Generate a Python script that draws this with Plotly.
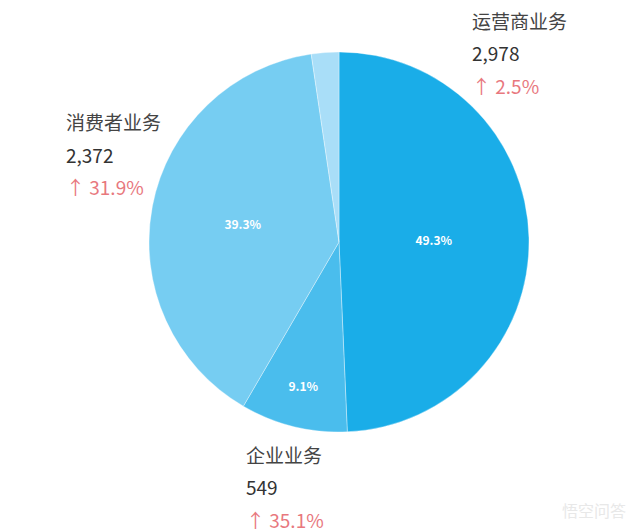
import plotly.graph_objects as go

# segments, clockwise from 12 o'clock
segments = ["运营商业务", "企业业务", "消费者业务", "其他"]
revenue = [2978, 549, 2372, 141]
growth = ["2.5%", "35.1%", "31.9%", ""]
colors = ["#1AADE8", "#4ABDED", "#76CDF2", "#A9DEF8"]

# page body has an 8px margin, so the figure is drawn 8px smaller and shifted
OFF = 8
W, H = 640 - OFF, 532 - OFF


def px(x):
    return (x - OFF) / W


def py(y):
    return 1 - (y - OFF) / H


fig = go.Figure(go.Pie(
    labels=segments,
    values=revenue,
    sort=False,
    direction="clockwise",
    rotation=0,
    marker=dict(colors=colors, line=dict(color="rgba(255,255,255,0.35)", width=1)),
    texttemplate=["%{percent:.1%}"] * 3 + [""],
    textposition="inside",
    insidetextorientation="horizontal",
    textfont=dict(color="white", size=12, family="Noto Sans CJK SC, sans-serif", weight="bold"),
    hoverinfo="label+value+percent",
    domain=dict(x=[px(148), px(530)], y=[py(432), py(52)]),
))

# outside labels: left x px, first line y px (reference pixels)
label_pos = {"运营商业务": (470, 20), "消费者业务": (64, 122), "企业业务": (244, 454)}
anns = []
for name, val, g in zip(segments, revenue, growth):
    if name not in label_pos:
        continue
    x, y = label_pos[name]
    lines = [(name, "#444444"), (f"{val:,}", "#333333"), ("↑ " + g, "#E8787E")]
    for i, (txt, col) in enumerate(lines):
        anns.append(dict(
            text=txt, x=px(x), y=py(y + i * 32.5),
            xref="paper", yref="paper", xanchor="left", yanchor="middle",
            showarrow=False,
            font=dict(size=19, color=col, family="Noto Sans CJK SC, sans-serif"),
        ))

# faint watermark
anns.append(dict(
    text="悟空问答", x=px(628), y=py(510), xref="paper", yref="paper",
    xanchor="right", yanchor="middle", showarrow=False,
    font=dict(size=16, color="#E8E8E8", family="Noto Sans CJK SC, sans-serif"),
))

fig.update_layout(
    width=W, height=H,
    margin=dict(l=0, r=0, t=0, b=0),
    paper_bgcolor="white",
    showlegend=False,
    annotations=anns,
)

fig.write_html("out.html")
